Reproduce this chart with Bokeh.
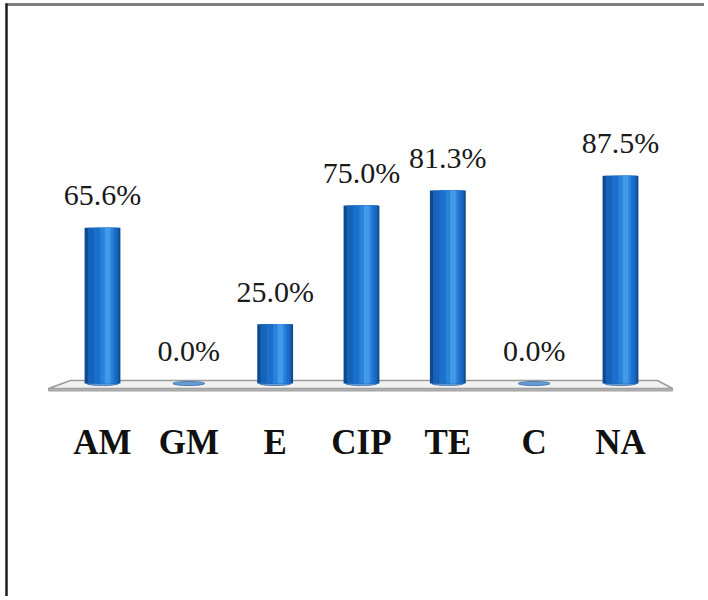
from bokeh.plotting import figure
from bokeh.models import ColumnDataSource, Range1d, FixedTicker
from bokeh.transform import dodge
from bokeh.core.properties import value
from bokeh.embed import file_html
from bokeh.resources import INLINE

# ---- data ----
categories = ["AM", "GM", "E", "CIP", "TE", "C", "NA"]
percent = [65.6, 0.0, 25.0, 75.0, 81.3, 0.0, 87.5]
value_labels = [f"{v:.1f}%" for v in percent]
positions = list(range(len(categories)))

# ---- layout constants (page pixels of the reference) ----
W, H = 704, 596
PX_PER_CAT = 86.33
PX_PER_PCT = 2.375
FIRST_X_PAGE = 102
ZERO_Y_PAGE = 383
ORIGIN = 0  # page offset of the figure


def fx(px):
    return (px - FIRST_X_PAGE) / PX_PER_CAT


def fy(py):
    return (ZERO_Y_PAGE - py) / PX_PER_PCT


x_start, x_end = fx(ORIGIN), fx(ORIGIN + W)
y_start, y_end = fy(ORIGIN + H), fy(ORIGIN)

p = figure(width=W, height=H, output_backend="svg", toolbar_location=None,
           x_range=Range1d(x_start, x_end), y_range=Range1d(y_start, y_end),
           min_border=0, min_border_left=0, min_border_right=0,
           min_border_top=0, min_border_bottom=0)
p.outline_line_color = None
p.background_fill_color = "white"
p.border_fill_color = "white"
p.xgrid.visible = False
p.ygrid.visible = False
p.yaxis.visible = False

src = ColumnDataSource(dict(x=positions, v=percent, lab=value_labels, cat=categories))

# frame lines of the picture
p.segment(x0=[fx(5)], y0=[fy(4)], x1=[x_end], y1=[fy(4)],
          line_color="#7f7f7f", line_width=3)
p.segment(x0=[fx(6)], y0=[y_start], x1=[fx(6)], y1=[fy(3)],
          line_color="#1e1e1e", line_width=2.5)

# floor plane
p.patch(x=[fx(48), fx(70), fx(657), fx(672)],
        y=[fy(388), fy(380), fy(380), fy(388)],
        fill_color="#f2f2f2", line_color="#9a9a9a", line_width=1.5)
p.patch(x=[fx(48), fx(672), fx(672), fx(48)],
        y=[fy(388), fy(388), fy(390.5), fy(390.5)],
        fill_color="#b0b0b0", line_color="#a0a0a0", line_width=1)

# bar bases (visible for zero values)
p.ellipse(x="x", y=0, width=0.37, height=4, width_units="data", height_units="screen",
          source=src, fill_color="#6a9bd0", line_color="#4a7fb8", line_width=1)

# cylindrical bars: layered strips for a shaded look
BW = 0.415
layers = [
    (BW, 0.0, "#0e4a8e"),
    (BW * 0.86, 0.008, "#1563ba"),
    (BW * 0.62, 0.03, "#1b70cb"),
    (BW * 0.36, 0.05, "#2a82da"),
    (BW * 0.16, 0.06, "#449ae8"),
]
for w, off, col in layers:
    p.vbar(x=dodge("x", off), top="v", bottom=0, width=w, source=src,
           fill_color=col, line_color=None)

# value labels
p.text(x="x", y="v", text="lab", source=src, text_align="center",
       text_baseline="alphabetic", y_offset=-33,
       text_font=value("Liberation Serif"), text_font_size="30px", text_color="#1a1a1a")

# category axis
ax = p.xaxis[0]
ax.fixed_location = fy(400)
ax.ticker = FixedTicker(ticks=positions)
ax.major_label_overrides = {i: c for i, c in zip(positions, categories)}
ax.axis_line_color = None
ax.major_tick_line_color = None
ax.minor_tick_line_color = None
ax.major_label_standoff = 16
ax.major_label_text_font = "Liberation Serif"
ax.major_label_text_font_style = "bold"
ax.major_label_text_font_size = "35px"
ax.major_label_text_color = "#111111"

open("out.html", "w").write(file_html(p, INLINE))
